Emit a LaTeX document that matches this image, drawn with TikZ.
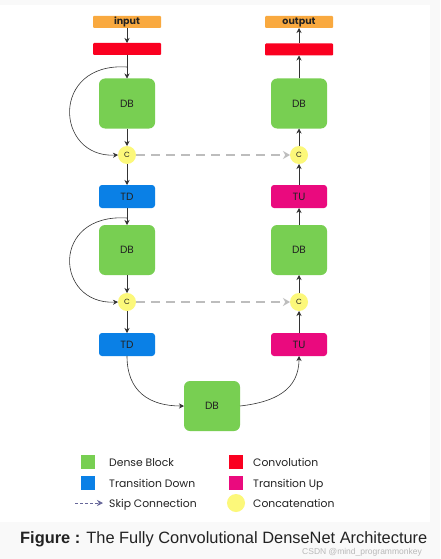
\documentclass[tikz,border=0pt]{standalone}
\usepackage{fontspec}
\setmainfont{Liberation Sans}
\newfontfamily\gothic{Poppins}
\usetikzlibrary{arrows.meta}
\definecolor{cin}{HTML}{F9A93F}
\definecolor{cconv}{HTML}{FA0020}
\definecolor{cdb}{HTML}{78CF52}
\definecolor{ctd}{HTML}{0A80E6}
\definecolor{ctu}{HTML}{EA0A7E}
\definecolor{ccat}{HTML}{FCF87A}
\definecolor{cskip}{HTML}{BDBDBD}
\definecolor{cline}{HTML}{333333}
\definecolor{cbg}{HTML}{F9F9F9}
\definecolor{ctext}{HTML}{222222}
\tikzset{
  blk/.style={draw=none, inner sep=0pt, outer sep=0pt, text=ctext, font=\gothic\fontsize{10.5}{11}\selectfont},
  iobox/.style={blk, fill=cin, minimum width=68pt, minimum height=12pt, rounded corners=1pt, font=\gothic\bfseries\fontsize{9.5}{10}\selectfont},
  convbox/.style={blk, fill=cconv, minimum width=68pt, minimum height=12pt, rounded corners=1pt},
  dbbox/.style={blk, fill=cdb, minimum width=56pt, minimum height=50pt, rounded corners=6pt},
  tdbox/.style={blk, fill=ctd, minimum width=56pt, minimum height=23pt, rounded corners=3pt},
  tubox/.style={blk, fill=ctu, minimum width=56pt, minimum height=23pt, rounded corners=3pt},
  catnode/.style={blk, circle, fill=ccat, minimum size=18pt, font=\gothic\fontsize{7.5}{8}\selectfont},
  arr/.style={draw=cline, line width=0.6pt, -{Stealth[length=5pt,width=5pt]}},
  skiparr/.style={draw=cskip, line width=1.8pt, dash pattern=on 9pt off 6pt, -{Stealth[length=7pt,width=8pt]}},
  legsq/.style={inner sep=0pt, minimum size=14pt},
  legtxt/.style={anchor=base west, inner sep=0pt, text=ctext, font=\gothic\fontsize{10.8}{12}\selectfont}
}
\begin{document}
\begin{tikzpicture}[x=1pt,y=-1pt]
\useasboundingbox (0,0) rectangle (440,559);
\fill[cbg] (0,0) rectangle (440,559);
\fill[white] (0,5) rectangle (430,522);

% left column
\node[iobox] (in) at (127,22) {input};
\node[convbox] (cv1) at (127,49) {};
\node[dbbox] (db1) at (127,103.5) {DB};
\node[catnode] (c1) at (127,155) {C};
\node[tdbox] (td1) at (127,196.5) {TD};
\node[dbbox] (db2) at (127,250) {DB};
\node[catnode] (c2) at (127,302) {C};
\node[tdbox] (td2) at (127,344.5) {TD};
% bottom
\node[dbbox] (db3) at (212,406) {DB};
% right column
\node[iobox] (out) at (299,22) {output};
\node[convbox] (cv2) at (299,49.5) {};
\node[dbbox] (dr1) at (299,103.5) {DB};
\node[catnode] (cr1) at (299,155) {C};
\node[tubox] (tu1) at (299,196.5) {TU};
\node[dbbox] (dr2) at (299,250) {DB};
\node[catnode] (cr2) at (299,302) {C};
\node[tubox] (tu2) at (299,344.5) {TU};

% down path
\draw[arr] (in) -- (cv1);
\draw[arr] (cv1) -- (db1);
\draw[arr] (db1) -- (c1);
\draw[arr] (c1) -- (td1);
\draw[arr] (td1) -- (db2);
\draw[arr] (db2) -- (c2);
\draw[arr] (c2) -- (td2);
\draw[arr] (td2.south) .. controls (127,392) and (150,406) .. (db3.west);
\draw[arr] (db3.east) .. controls (275,402) and (299,390) .. (tu2.south);
% up path
\draw[arr] (tu2) -- (cr2);
\draw[arr] (cr2) -- (dr2);
\draw[arr] (dr2) -- (tu1);
\draw[arr] (tu1) -- (cr1);
\draw[arr] (cr1) -- (dr1);
\draw[arr] (dr1) -- (cv2);
\draw[arr] (cv2) -- (out);

% dense connections
\coordinate (s1) at (127,67);
\coordinate (s2) at (127,218);
\draw[arr] (s1) .. controls (50,62) and (55,158) .. (c1.west);
\draw[arr] (s2) .. controls (50,213) and (55,305) .. (c2.west);

% skip connections
\draw[skiparr] (c1.east) -- (cr1.west);
\draw[skiparr] (c2.east) -- (cr2.west);

% legend
\node[legsq, fill=cdb] (l1) at (88,462) {};
\node[legtxt] at (109,466) {Dense Block};
\node[legsq, fill=ctd] (l2) at (88,483) {};
\node[legtxt] at (109,487) {Transition Down};
\coordinate (la) at (75,503);
\coordinate (lb) at (103,503);
\draw[draw=gray!80!blue, line width=0.7pt, dash pattern=on 3pt off 2pt, -{Stealth[length=6pt,width=6pt]}] (la) -- (lb);
\node[legtxt] at (109,507) {Skip Connection};
\node[legsq, fill=cconv] (l3) at (236,462) {};
\node[legtxt] at (253,466) {Convolution};
\node[legsq, fill=ctu] (l4) at (236,483) {};
\node[legtxt] at (253,487) {Transition Up};
\node[circle, fill=ccat, inner sep=0pt, minimum size=18pt] (l5) at (236,503) {};
\node[legtxt] at (253,507) {Concatenation};

% caption
\node[anchor=base west, inner sep=0pt, text=ctext, font=\fontsize{16.4}{18}\selectfont] (cap) at (20,543) {\textbf{Figure :} The Fully Convolutional DenseNet Architecture};
\node[anchor=base west, inner sep=0pt, text=gray!55, font=\fontsize{8.5}{9}\selectfont] (wm) at (302,554) {CSDN @mind\_programmonkey};
\end{tikzpicture}
\end{document}
